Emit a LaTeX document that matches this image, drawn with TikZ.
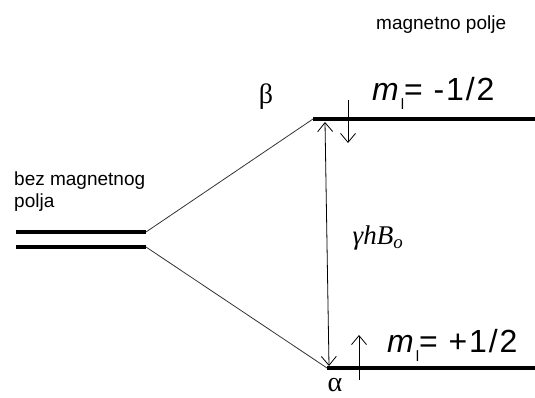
\documentclass[tikz,border=0pt]{standalone}
\usepackage{fontspec}
\setmainfont{Liberation Serif}
\newfontfamily\arialfont{Liberation Sans}
\newfontfamily\widearial[LetterSpace=6]{Liberation Sans}
\usetikzlibrary{arrows.meta}
\newcommand{\lsub}{\raisebox{-9pt}{\fontsize{15}{15}\selectfont l}}
\begin{document}
\begin{tikzpicture}[x=1pt,y=-1pt,
    level/.style={line width=4.5pt},
    link/.style={black!80,line width=0.8pt},
    spin/.style={->,line width=0.8pt},
    note/.style={font=\arialfont\fontsize{19}{22}\selectfont,inner sep=0pt,align=left},
    mlbl/.style={font=\widearial\fontsize{32}{34}\selectfont,inner sep=0pt,anchor=base west},
    greek/.style={font=\fontsize{28}{30}\selectfont,inner sep=0pt},
    >={Straight Barb[length=9pt,width=15pt]}
]
\useasboundingbox (0,0) rectangle (535,398);

% energy levels
\coordinate (za) at (16,232);
\coordinate (zb) at (146,232);
\coordinate (zc) at (16,247);
\coordinate (zd) at (146,247);
\coordinate (ba) at (313,119);
\coordinate (bb) at (535,119);
\coordinate (aa) at (327,368);
\coordinate (ab) at (535,368);
\draw[level] (za)--(zb);
\draw[level] (zc)--(zd);
\draw[level] (ba)--(bb);
\draw[level] (aa)--(ab);
\draw[link] (zb)--(ba);
\draw[link] (zd)--(aa);

% splitting
\coordinate (gt) at (325,122);
\coordinate (gb) at (329,366);
\draw[<->,line width=0.8pt] (gt)--(gb);
\node[font=\itshape\fontsize{27}{28}\selectfont,inner sep=0pt] (gap) at (378,238) {γhB\textsubscript{o}};

% spins
\coordinate (sda) at (348,100);
\coordinate (sdb) at (348,143);
\coordinate (sua) at (359,380);
\coordinate (sub) at (359,335);
\draw[spin] (sda)--(sdb);
\draw[spin] (sua)--(sub);

\node[mlbl] (mbeta) at (372,101) {\textit{m}\lsub= -1/2};
\node[mlbl] (malpha) at (387,352) {\textit{m}\lsub= +1/2};
\node[greek] (beta) at (266,97) {β};
\node[greek] (alpha) at (335,385) {α};

\node[note,anchor=north west] (nofield) at (14,172) {bez magnetnog\\polja};
\node[note,anchor=base west] (field) at (376,30) {magnetno polje};
\end{tikzpicture}
\end{document}
